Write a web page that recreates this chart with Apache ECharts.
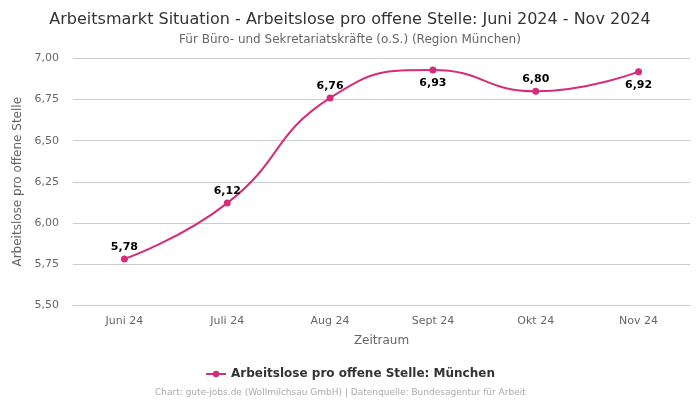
<!DOCTYPE html>
<html><head><meta charset="utf-8">
<script src="https://cdn.jsdelivr.net/npm/echarts@6/dist/echarts.min.js"></script>
<style>html,body{margin:0;padding:0;background:#fff}#c{width:700px;height:400px}</style>
</head><body><div id="c"></div>
<script>
const categories = ['Juni 24','Juli 24','Aug 24','Sept 24','Okt 24','Nov 24'];
const values = [5.78, 6.12, 6.76, 6.93, 6.80, 6.92];
const labelBelow = [false, false, false, true, false, true];
const seriesName = 'Arbeitslose pro offene Stelle: München';
const color = '#d42e7b';
const fmt = v => v.toFixed(2).replace('.', ',');
const chart = echarts.init(document.getElementById('c'), null, {renderer:'canvas'});
chart.setOption({
  animation:false,
  textStyle:{fontFamily:'DejaVu Sans'},
  title:{text:'Arbeitsmarkt Situation - Arbeitslose pro offene Stelle: Juni 2024 - Nov 2024',
    subtext:'Für Büro- und Sekretariatskräfte (o.S.) (Region München)',
    left:'center', top:7, itemGap:6,
    textStyle:{fontSize:16,fontWeight:'normal',color:'#333',fontFamily:'DejaVu Sans'},
    subtextStyle:{fontSize:12,color:'#666',fontFamily:'DejaVu Sans'}},
  grid:{left:73,right:10,top:58.5,bottom:95},
  xAxis:{type:'category',data:categories,boundaryGap:true,
    name:'Zeitraum',nameLocation:'middle',nameGap:30,
    nameTextStyle:{color:'#666',fontSize:12},
    axisLine:{lineStyle:{color:'#ccc'}},axisTick:{show:false},
    axisLabel:{color:'#666',fontSize:11,margin:11}},
  yAxis:{type:'value',min:5.5,max:7,interval:0.25,
    name:'Arbeitslose pro offene Stelle',nameLocation:'middle',nameGap:41,
    nameTextStyle:{color:'#666',fontSize:12},
    axisLabel:{color:'#666',fontSize:11,formatter:v=>fmt(v),margin:14},
    splitLine:{lineStyle:{color:'#ccc'}}},
  legend:{bottom:15,left:'center',itemWidth:20,itemHeight:8,
    textStyle:{fontSize:12,fontWeight:'bold',color:'#333'},data:[seriesName]},
  graphic:[{type:'text',left:155,bottom:3,style:{text:'Chart: gute-jobs.de (Wollmilchsau GmbH) | Datenquelle: Bundesagentur für Arbeit',fill:'#aaa',fontSize:9,fontFamily:'DejaVu Sans'}}],
  series:[{name:seriesName,type:'line',smooth:true,symbol:'circle',symbolSize:7,
    itemStyle:{color:color},lineStyle:{color:color,width:2},
    data:values.map((v,i)=>({value:v,label:{position:labelBelow[i]?'bottom':'top',distance:labelBelow[i]?4:3}})),
    label:{show:true,formatter:p=>fmt(p.value),fontSize:11,fontWeight:'bold',color:'#000'}}]
});
</script></body></html>
